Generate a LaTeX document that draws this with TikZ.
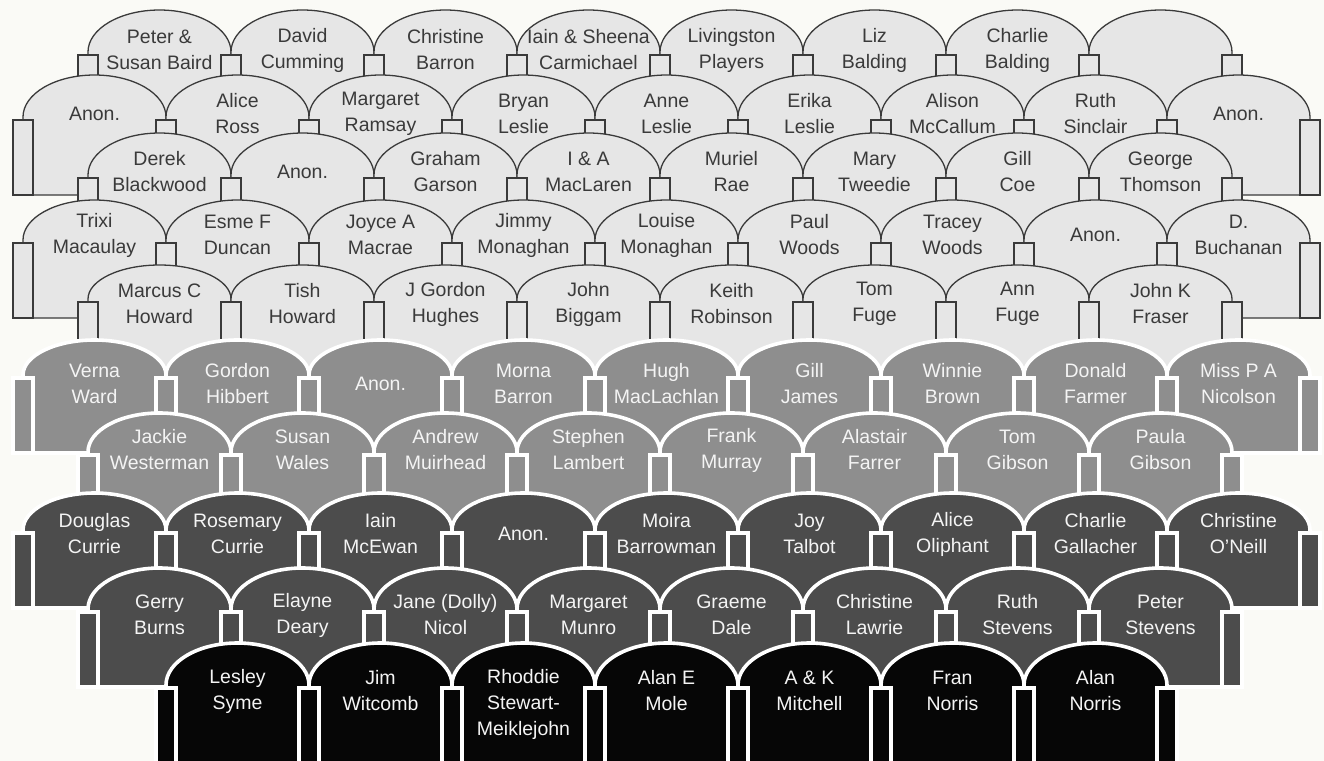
\documentclass[tikz,border=0pt]{standalone}
\usepackage{fontspec}
\setmainfont{Liberation Sans}
\definecolor{paper}{HTML}{FAFAF6}
\definecolor{ink}{HTML}{3A3A3A}
\definecolor{stalls}{HTML}{E6E6E6}
\definecolor{circle}{HTML}{8E8E8E}
\definecolor{dress}{HTML}{4C4C4C}
\definecolor{front}{HTML}{060606}
\definecolor{chalk}{HTML}{F4F4F4}
\newcommand{\seatrow}[5]{%
  \pgfmathsetmacro{\rowbase}{#4-3}
  \pgfmathsetmacro{\rowry}{0.5*(\rowbase-#3)}
  \pgfmathsetmacro{\rowbot}{#4+75}
  \foreach \k in {1,...,#2}{
    \pgfmathsetmacro{\xl}{#1+143*(\k-1)}
    \path[#5] (\xl,\rowbot) -- (\xl,\rowbase)
      arc[start angle=180, end angle=0, x radius=35.75pt, y radius=\rowry pt]
      -- (\xl+143,\rowbot) -- cycle;
  }
  \foreach \k in {0,...,#2}{
    \pgfmathsetmacro{\xa}{#1+143*\k}
    \path[#5] (\xa-10,#4) rectangle (\xa+10,\rowbot);
  }
}
\tikzset{
  seatlight/.style={
    fill=stalls,
    draw=ink,
    line width=0.65pt
  },
  seatgrey/.style={
    fill=circle,
    draw=white,
    line width=1.8pt
  },
  seatdark/.style={
    seatgrey,
    fill=dress
  },
  seatblack/.style={
    seatgrey,
    fill=front
  },
  namedark/.style={
    font=\fontsize{9.75}{13}\selectfont,
    text=ink,
    align=center,
    inner sep=0pt
  },
  namelight/.style={
    namedark,
    text=chalk
  }
}

\begin{document}
\begin{tikzpicture}[x=0.5pt, y=-0.5pt]
  \clip (0,0) rectangle (1324,761);
  \fill[paper] (0,0) rectangle (1324,761);
  \seatrow{88}{8}{10}{55}{seatlight}
  \seatrow{23}{9}{75}{120}{seatlight}
  \seatrow{88}{8}{133}{178}{seatlight}
  \seatrow{23}{9}{200}{243}{seatlight}
  \seatrow{88}{8}{265}{302}{seatlight}
  \seatrow{23}{9}{340}{378}{seatgrey}
  \seatrow{88}{8}{413}{455}{seatgrey}
  \seatrow{23}{9}{493}{533}{seatdark}
  \seatrow{88}{8}{568}{612}{seatdark}
  \seatrow{166}{7}{643}{688}{seatblack}

  \foreach \nm [count=\i] in {{Peter \&\\Susan Baird},{David\\Cumming},{Christine\\Barron},
      {Iain \& Sheena\\Carmichael},{Livingston\\Players},{Liz\\Balding},{Charlie\\Balding}}
    \node[namedark] (row1-\i) at (16.5+143*\i,50) {\nm};
  \foreach \nm [count=\i] in {{Anon.},{Alice\\Ross},{Margaret\\Ramsay},{Bryan\\Leslie},
      {Anne\\Leslie},{Erika\\Leslie},{Alison\\McCallum},{Ruth\\Sinclair},{Anon.}}
    \node[namedark] (row2-\i) at (-48.5+143*\i,114) {\nm};
  \foreach \nm [count=\i] in {{Derek\\Blackwood},{Anon.},{Graham\\Garson},{I \& A\\MacLaren},
      {Muriel\\Rae},{Mary\\Tweedie},{Gill\\Coe},{George\\Thomson}}
    \node[namedark] (row3-\i) at (16.5+143*\i,172) {\nm};
  \foreach \nm [count=\i] in {{Trixi\\Macaulay},{Esme F\\Duncan},{Joyce A\\Macrae},
      {Jimmy\\Monaghan},{Louise\\Monaghan},{Paul\\Woods},{Tracey\\Woods},{Anon.},{D.\\Buchanan}}
    \node[namedark] (row4-\i) at (-48.5+143*\i,235) {\nm};
  \foreach \nm [count=\i] in {{Marcus C\\Howard},{Tish\\Howard},{J Gordon\\Hughes},
      {John\\Biggam},{Keith\\Robinson},{Tom\\Fuge},{Ann\\Fuge},{John K\\Fraser}}
    \node[namedark] (row5-\i) at (16.5+143*\i,304) {\nm};
  \foreach \nm [count=\i] in {{Verna\\Ward},{Gordon\\Hibbert},{Anon.},{Morna\\Barron},
      {Hugh\\MacLachlan},{Gill\\James},{Winnie\\Brown},{Donald\\Farmer},{Miss P A\\Nicolson}}
    \node[namelight] (row6-\i) at (-48.5+143*\i,384) {\nm};
  \foreach \nm [count=\i] in {{Jackie\\Westerman},{Susan\\Wales},{Andrew\\Muirhead},
      {Stephen\\Lambert},{Frank\\Murray},{Alastair\\Farrer},{Tom\\Gibson},{Paula\\Gibson}}
    \node[namelight] (row7-\i) at (16.5+143*\i,450) {\nm};
  \foreach \nm [count=\i] in {{Douglas\\Currie},{Rosemary\\Currie},{Iain\\McEwan},{Anon.},
      {Moira\\Barrowman},{Joy\\Talbot},{Alice\\Oliphant},{Charlie\\Gallacher},{Christine\\O'Neill}}
    \node[namelight] (row8-\i) at (-48.5+143*\i,534) {\nm};
  \foreach \nm [count=\i] in {{Gerry\\Burns},{Elayne\\Deary},{Jane (Dolly)\\Nicol},
      {Margaret\\Munro},{Graeme\\Dale},{Christine\\Lawrie},{Ruth\\Stevens},{Peter\\Stevens}}
    \node[namelight] (row9-\i) at (16.5+143*\i,615) {\nm};
  \foreach \nm/\ty [count=\i] in {{Lesley\\Syme}/691,{Jim\\Witcomb}/691,
      {Rhoddie\\Stewart-\\Meiklejohn}/704,{Alan E\\Mole}/691,{A \& K\\Mitchell}/691,
      {Fran\\Norris}/691,{Alan\\Norris}/691}
    \node[namelight] (row10-\i) at (94.5+143*\i,\ty) {\nm};
\end{tikzpicture}
\end{document}
